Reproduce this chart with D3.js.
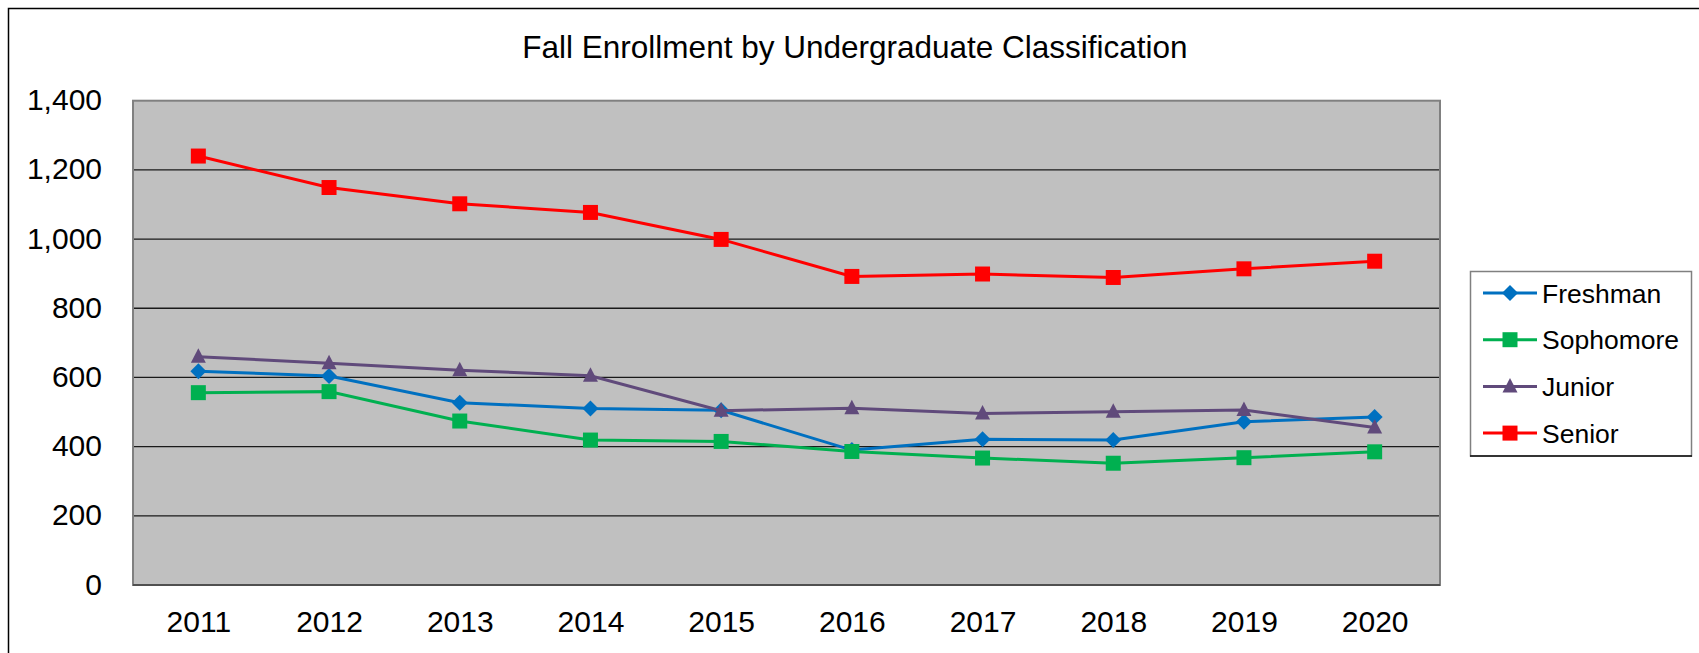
<!DOCTYPE html>
<html>
<head>
<meta charset="utf-8">
<script src="https://cdn.jsdelivr.net/npm/d3@7"></script>
<style>
  body { margin: 0; background: #fff; }
  svg { display: block; font-family: "Liberation Sans", Arial, sans-serif; }
</style>
</head>
<body>
<svg id="chart" width="1699" height="653"></svg>
<script>
// Chart data
const years = ["2011", "2012", "2013", "2014", "2015", "2016", "2017", "2018", "2019", "2020"];
const freshman  = [618, 604, 527, 510, 505, 390, 421, 419, 472, 486];
const sophomore = [556, 559, 474, 419, 415, 386, 367, 352, 368, 385];
const junior    = [660, 641, 621, 605, 504, 511, 496, 501, 506, 455];
const senior    = [1240, 1149, 1102, 1077, 999, 892, 899, 889, 914, 936];
const yTicks = [0, 200, 400, 600, 800, 1000, 1200, 1400];

const series = [
    { name: "Freshman",  values: freshman,  color: "#0070C0", marker: "diamond" },
    { name: "Sophomore", values: sophomore, color: "#00B050", marker: "square" },
    { name: "Junior",    values: junior,    color: "#604A7B", marker: "triangle" },
    { name: "Senior",    values: senior,    color: "#FF0000", marker: "square" }
];

const svg = d3.select("#chart");
const plot = { left: 133, right: 1440, top: 100.7, bottom: 585 };

// outer chart border (runs off the picture on the right and bottom)
svg.append("rect")
    .attr("x", 8.5).attr("y", 8.5)
    .attr("width", 1800).attr("height", 800)
    .attr("fill", "none").attr("stroke", "#000").attr("stroke-width", 1.5);

svg.append("text")
    .attr("x", 855).attr("y", 58)
    .attr("text-anchor", "middle")
    .attr("font-size", 31.5)
    .text("Fall Enrollment by Undergraduate Classification");

const x = d3.scalePoint().domain(years).range([plot.left, plot.right]).padding(0.5);
const y = d3.scaleLinear().domain([0, 1400]).range([plot.bottom, plot.top]);

// plot area
svg.append("rect")
    .attr("x", plot.left).attr("y", plot.top)
    .attr("width", plot.right - plot.left).attr("height", plot.bottom - plot.top)
    .attr("fill", "#C0C0C0");

// gridlines
svg.append("g")
    .selectAll("line")
    .data(yTicks.filter(d => d > 0 && d < 1400))
    .join("line")
    .attr("x1", plot.left).attr("x2", plot.right)
    .attr("y1", d => y(d)).attr("y2", d => y(d))
    .attr("stroke", "#1a1a1a").attr("stroke-width", 1.3);

svg.append("rect")
    .attr("x", plot.left).attr("y", plot.top)
    .attr("width", plot.right - plot.left).attr("height", plot.bottom - plot.top)
    .attr("fill", "none").attr("stroke", "#808080").attr("stroke-width", 2);

svg.append("line")
    .attr("x1", plot.left).attr("x2", plot.right)
    .attr("y1", plot.bottom).attr("y2", plot.bottom)
    .attr("stroke", "#505050").attr("stroke-width", 2);

// axes
const yAxis = svg.append("g")
    .attr("transform", `translate(${plot.left},0)`)
    .call(d3.axisLeft(y).tickValues(yTicks).tickFormat(d3.format(",")).tickSize(0).tickPadding(31));
yAxis.select(".domain").remove();
yAxis.selectAll("text").attr("font-size", 30).attr("font-family", null).attr("fill", "#000").attr("dy", "0.3em");

const xAxis = svg.append("g")
    .attr("transform", `translate(0,${plot.bottom})`)
    .call(d3.axisBottom(x).tickSize(0).tickPadding(26));
xAxis.select(".domain").remove();
xAxis.selectAll("text").attr("font-size", 30).attr("font-family", null).attr("fill", "#000");

// markers
function markerPath(type) {
    if (type === "diamond") return "M0,-8L8,0L0,8L-8,0Z";
    if (type === "triangle") return "M0,-8.5L7.5,6L-7.5,6Z";
    return "M-7.5,-7.5H7.5V7.5H-7.5Z";
}

const line = d3.line()
    .x((d, i) => x(years[i]))
    .y(d => y(d));

series.forEach(s => {
    const g = svg.append("g");
    g.append("path")
        .attr("d", line(s.values))
        .attr("fill", "none")
        .attr("stroke", s.color)
        .attr("stroke-width", 3);
    g.selectAll("path.m")
        .data(s.values)
        .join("path")
        .attr("class", "m")
        .attr("transform", (d, i) => `translate(${x(years[i])},${y(d)})`)
        .attr("d", markerPath(s.marker))
        .attr("fill", s.color);
});

// legend
const legend = svg.append("g");
legend.append("rect")
    .attr("x", 1470.5).attr("y", 271.5)
    .attr("width", 221).attr("height", 184.5)
    .attr("fill", "#fff").attr("stroke", "#808080").attr("stroke-width", 1.5);
legend.append("line")
    .attr("x1", 1470).attr("x2", 1692)
    .attr("y1", 456).attr("y2", 456)
    .attr("stroke", "#111").attr("stroke-width", 1.5);

series.forEach((s, i) => {
    const cy = 293 + i * 46.7;
    legend.append("line")
        .attr("x1", 1483).attr("x2", 1537)
        .attr("y1", cy).attr("y2", cy)
        .attr("stroke", s.color).attr("stroke-width", 3);
    legend.append("path")
        .attr("transform", `translate(1510,${cy})`)
        .attr("d", markerPath(s.marker))
        .attr("fill", s.color);
    legend.append("text")
        .attr("x", 1542).attr("y", cy)
        .attr("dy", "0.36em")
        .attr("font-size", 26.5)
        .text(s.name);
});
</script>
</body>
</html>
